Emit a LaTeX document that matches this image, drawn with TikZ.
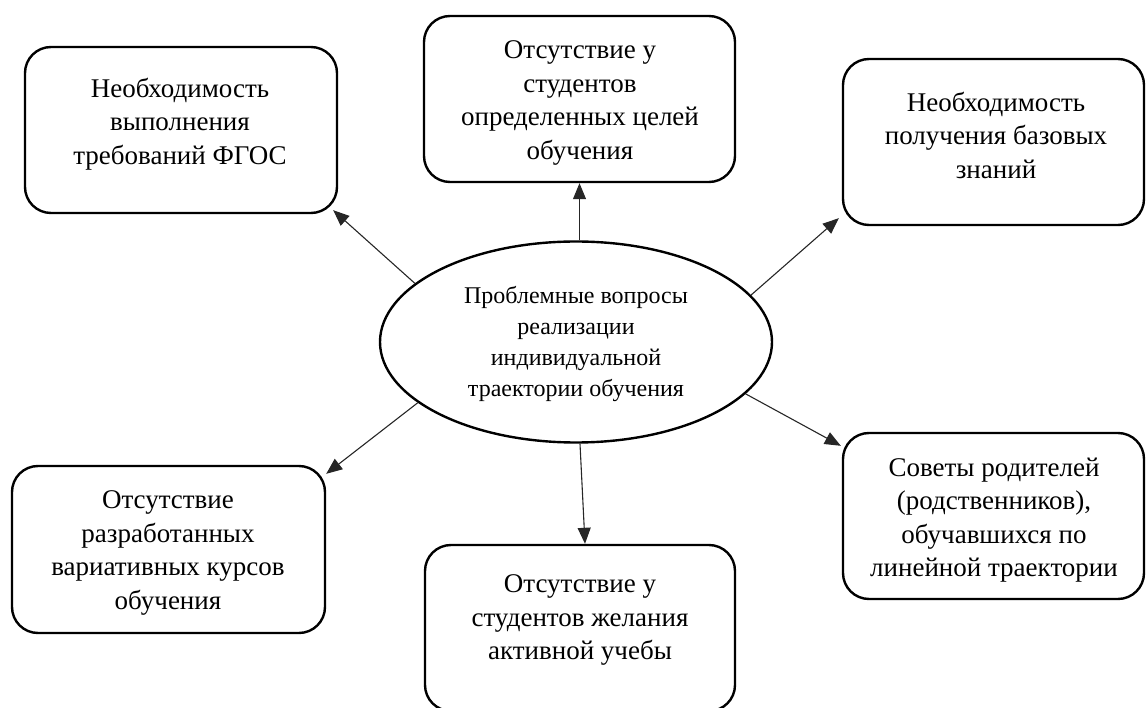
\documentclass[tikz,border=0pt]{standalone}
\usepackage{fontspec}
\setmainfont{Liberation Serif}
\usetikzlibrary{shapes.geometric,arrows.meta,calc}
\begin{document}
\begin{tikzpicture}[x=1pt,y=-1pt,
  box/.style={draw, line width=2.4pt, rounded corners=26pt, inner sep=0pt},
  oval/.style={ellipse, draw, line width=2.4pt, inner sep=0pt, minimum width=392pt, minimum height=201pt},
  txt/.style={align=center, font=\fontsize{27}{33.5}\selectfont, inner sep=0pt},
  etxt/.style={align=center, font=\fontsize{24}{31}\selectfont, inner sep=0pt},
  arr/.style={line width=1.1pt, black!85, -{Triangle[length=16pt,width=13pt]}}]
\useasboundingbox (0,0) rectangle (1146,708);
% boxes
\node[box, minimum width=312pt, minimum height=166pt] (b1) at (181,130) {};
\node[box, minimum width=311pt, minimum height=166pt] (b2) at (579.5,99) {};
\node[box, minimum width=301pt, minimum height=166pt] (b3) at (993.5,142) {};
\node[box, minimum width=313pt, minimum height=167pt] (b4) at (168.5,549.5) {};
\node[box, minimum width=310pt, minimum height=166pt] (b5) at (580,628) {};
\node[box, minimum width=301pt, minimum height=166pt] (b6) at (993.5,516) {};
\node[oval] (e) at (576,342) {};
% texts
\node[txt] (t1) at (180,124) {Необходимость\\выполнения\\требований ФГОС};
\node[txt] (t2) at (580,103) {Отсутствие у\\студентов\\определенных целей\\обучения};
\node[txt] (t3) at (996,135) {Необходимость\\получения базовых\\знаний};
\node[txt] (t4) at (168,553) {Отсутствие\\разработанных\\вариативных курсов\\обучения};
\node[txt] (t5) at (580,620) {Отсутствие у\\студентов желания\\активной учебы};
\node[txt] (t6) at (994,520) {Советы родителей\\(родственников),\\обучавшихся по\\линейной траектории};
\node[etxt] (te) at (576,344) {Проблемные вопросы\\реализации\\индивидуальной\\траектории обучения};
% arrows
\draw[arr] (e.160.5) -- ($(b1.south east)+(-5,-4)$);
\draw[arr] (e.north -| b2.south) -- (b2.south);
\draw[arr] (e.15.7) -- ($(b3.south west)+(-3,-8)$);
\draw[arr] (e.201.7) -- ($(b4.north east)+(0,9)$);
\draw[arr] ($(e.south)+(4,0)$) -- ($(b5.north)+(5,0)$);
\draw[arr] (e.343.8) -- ($(b6.north west)+(-1,14)$);
\end{tikzpicture}
\end{document}
